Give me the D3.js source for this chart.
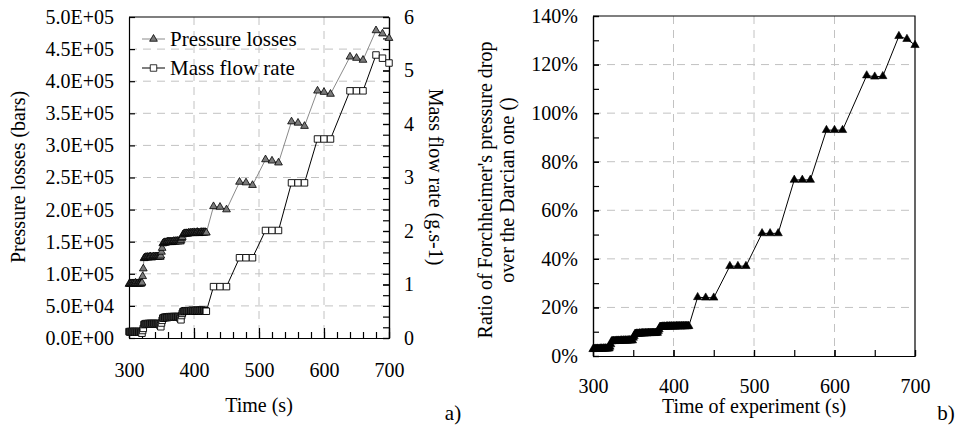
<!DOCTYPE html>
<html>
<head>
<meta charset="utf-8">
<script src="https://cdn.jsdelivr.net/npm/d3@7"></script>
<style>
  html, body { margin: 0; padding: 0; background: #fff; }
  svg { display: block; }
  .grid line { stroke: #c2c2c2; stroke-width: 1; stroke-dasharray: 8,6; }
  .axis path, .axis line { stroke: #000; stroke-width: 1.2; }
</style>
</head>
<body>
<svg id="chart" width="960" height="432"></svg>
<script>
// ---------- DATA ----------
const timeS = [
  300,301,302,303,304,305,306,307,308,309,310,311,312,313,314,315,316,317,318,319,320,
  321,322,
  323,324,325,326,327,328,329,330,331,332,333,334,335,336,337,338,339,340,341,342,343,344,345,346,347,348,349,
  350,351,
  352,353,354,355,356,357,358,359,360,361,362,363,364,365,366,367,368,369,370,371,372,373,374,375,376,377,378,379,380,
  381,382,
  383,384,385,386,387,388,389,390,391,392,393,394,395,396,397,398,399,400,401,402,403,404,405,406,407,408,409,410,
  411,412,413,414,415,416,417,418,419,
  430,440,450,470,480,490,510,520,530,550,560,570,590,600,610,640,650,660,680,690,700];

const pressureLosses = [
  84000,84000,85000,84000,85000,84000,85000,85000,84000,85000,86000,85000,84000,85000,85000,84000,85000,85000,84000,85000,86000,
  96000,108000,
  124000,125000,125000,126000,125000,126000,126000,125000,126000,126000,127000,126000,125000,126000,126000,127000,126000,126000,
  127000,126000,127000,127000,126000,127000,127000,126000,128000,
  134000,140000,
  147000,148000,148000,149000,148000,149000,149000,150000,149000,150000,150000,149000,150000,150000,149000,150000,150000,151000,
  150000,150000,151000,150000,151000,151000,150000,151000,151000,150000,152000,
  155000,157000,
  161000,162000,162000,163000,162000,163000,163000,162000,163000,164000,163000,163000,164000,163000,164000,164000,163000,164000,
  164000,163000,164000,164000,165000,164000,164000,163000,164000,164000,165000,164000,164000,165000,164000,164000,165000,164000,164000,
  205000,204000,200000,243000,242000,238000,278000,276000,273000,337000,335000,330000,
  385000,383000,380000,438000,436000,433000,479000,474000,467000];

const massFlowRate = [
  0.12,0.11,0.12,0.12,0.11,0.12,0.12,0.11,0.12,0.12,0.11,0.12,0.12,0.11,0.12,0.12,0.11,0.12,0.11,0.10,0.09,
  0.14,0.18,
  0.25,0.26,0.26,0.27,0.26,0.26,0.27,0.27,0.26,0.27,0.27,0.26,0.27,0.27,0.26,0.27,0.27,0.26,0.27,0.27,0.26,0.27,0.27,0.26,0.25,0.23,0.21,
  0.28,0.33,
  0.37,0.38,0.38,0.39,0.38,0.39,0.39,0.38,0.39,0.39,0.40,0.39,0.39,0.40,0.39,0.39,0.40,0.39,0.40,0.40,0.39,0.40,0.40,0.39,0.40,0.39,0.38,0.36,0.34,
  0.42,0.46,
  0.49,0.50,0.50,0.51,0.50,0.51,0.51,0.50,0.51,0.51,0.51,0.50,0.51,0.51,0.52,0.51,0.51,0.50,0.51,0.51,0.52,0.51,0.51,0.52,0.51,0.51,0.52,0.51,
  0.51,0.52,0.51,0.51,0.52,0.51,0.51,0.50,0.50,
  0.96,0.96,0.96,1.50,1.50,1.50,2.01,2.01,2.01,2.90,2.90,2.90,
  3.72,3.72,3.72,4.62,4.62,4.62,5.29,5.23,5.14];

const forchRatio = [
  2.8,2.9,2.9,3.0,2.9,3.0,3.0,2.9,3.0,3.0,3.1,3.0,3.0,3.1,3.0,3.1,3.1,3.0,3.1,3.1,3.1,
  3.8,4.8,
  6.0,6.1,6.2,6.2,6.1,6.2,6.3,6.2,6.3,6.3,6.2,6.3,6.4,6.3,6.3,6.4,6.3,6.4,6.4,6.3,6.4,6.4,6.5,6.4,6.4,6.5,6.4,
  7.5,8.2,
  9.0,9.1,9.2,9.2,9.1,9.2,9.3,9.2,9.3,9.3,9.4,9.3,9.3,9.4,9.4,9.3,9.4,9.5,9.4,9.4,9.5,9.4,9.5,9.5,9.4,9.5,9.5,9.6,9.5,
  10.3,11.0,
  11.9,12.0,12.0,12.1,12.0,12.1,12.1,12.0,12.1,12.2,12.1,12.1,12.2,12.1,12.2,12.2,12.1,12.2,12.2,12.1,12.2,12.3,12.2,12.2,12.3,12.2,12.2,12.3,
  12.2,12.3,12.3,12.2,12.3,12.3,12.2,12.3,12.3,
  24.2,24.0,24.0,37.0,37.0,37.0,50.5,50.5,50.5,72.5,72.5,72.5,
  93.0,93.0,93.0,115.5,115.0,115.2,131.7,130.5,128.0];

const timeTicks = [300,400,500,600,700];
const pressureTicks = [0,50000,100000,150000,200000,250000,300000,350000,400000,450000,500000];
const massTicks = [0,1,2,3,4,5,6];
const ratioTicks = [0,20,40,60,80,100,120,140];
const legendLabels = ["Pressure losses","Mass flow rate"];

// ---------- DRAW ----------
const FONT = "'Liberation Serif', 'Times New Roman', serif";
const svg = d3.select("#chart");

function expLabel(v){
  if (v === 0) return "0.0E+00";
  const e = Math.floor(Math.log10(v) + 1e-9);
  const m = v / Math.pow(10, e);
  return m.toFixed(1) + "E+" + String(e).padStart(2, "0");
}
function styleAxis(g){
  g.attr("font-family", FONT).attr("font-size", 20);
  g.selectAll("text").attr("font-family", FONT).attr("font-size", 20).attr("fill", "#000");
}
function addText(x, y, txt, size, anchor, transform){
  const t = svg.append("text").attr("font-family", FONT).attr("font-size", size)
    .attr("text-anchor", anchor || "start").attr("fill", "#000").text(txt);
  if (transform) t.attr("transform", transform); else t.attr("x", x).attr("y", y);
  return t;
}

// ===== Chart a) =====
const A = {l:129, r:389, t:17, b:338};
const xA = d3.scaleLinear().domain([300,700]).range([A.l, A.r]);
const yP = d3.scaleLinear().domain([0,500000]).range([A.b, A.t]);
const yM = d3.scaleLinear().domain([0,6]).range([A.b, A.t]);

const gA = svg.append("g");
gA.append("g").attr("class","grid").selectAll("line")
  .data(pressureTicks.filter(d => d > 0 && d < 500000)).join("line")
  .attr("x1", A.l).attr("x2", A.r).attr("y1", d => yP(d)).attr("y2", d => yP(d));
gA.append("g").attr("class","grid").selectAll("line")
  .data(timeTicks.filter(d => d > 300 && d < 700)).join("line")
  .attr("y1", A.t).attr("y2", A.b).attr("x1", d => xA(d)).attr("x2", d => xA(d));

gA.append("g").attr("class","axis").attr("transform",`translate(${A.l},0)`)
  .call(d3.axisLeft(yP).tickValues(pressureTicks).tickSizeInner(-6).tickSizeOuter(0).tickPadding(15).tickFormat(expLabel))
  .call(styleAxis);
gA.append("g").attr("class","axis").attr("transform",`translate(${A.r},0)`)
  .call(d3.axisRight(yM).tickValues(d3.range(0, 6.001, 0.2)).tickSizeInner(-6).tickSizeOuter(0).tickFormat(""));
gA.append("g").attr("class","axis").attr("transform",`translate(${A.r},0)`)
  .call(d3.axisRight(yM).tickValues(massTicks).tickSizeInner(-6).tickSizeOuter(0).tickPadding(15).tickFormat(d3.format("d")))
  .call(styleAxis);
gA.append("g").attr("class","axis").attr("transform",`translate(0,${A.b})`)
  .call(d3.axisBottom(xA).tickValues(d3.range(300, 701, 20)).tickSizeInner(-6).tickSizeOuter(0).tickFormat(""));
gA.append("g").attr("class","axis").attr("transform",`translate(0,${A.b})`)
  .call(d3.axisBottom(xA).tickValues(timeTicks).tickSizeInner(-10).tickSizeOuter(0).tickPadding(25).tickFormat(d3.format("d")))
  .call(styleAxis);
gA.append("line").attr("x1",A.l).attr("x2",A.r).attr("y1",A.t).attr("y2",A.t)
  .attr("stroke","#000").attr("stroke-width",1.2);

const ptsA = timeS.map((t,i) => ({t, p: pressureLosses[i], m: massFlowRate[i]}));
gA.append("path").datum(ptsA).attr("fill","none").attr("stroke","#8a8a8a").attr("stroke-width",1)
  .attr("d", d3.line().x(d => xA(d.t)).y(d => yP(d.p)));
gA.append("path").datum(ptsA).attr("fill","none").attr("stroke","#000").attr("stroke-width",1)
  .attr("d", d3.line().x(d => xA(d.t)).y(d => yM(d.m)));
const tri = d3.symbol().type(d3.symbolTriangle).size(26);
const sq = d3.symbol().type(d3.symbolSquare).size(42);
gA.append("g").selectAll("path").data(ptsA).join("path")
  .attr("d", sq).attr("transform", d => `translate(${xA(d.t)},${yM(d.m)})`)
  .attr("fill","#fff").attr("stroke","#000").attr("stroke-width",0.9);
gA.append("g").selectAll("path").data(ptsA).join("path")
  .attr("d", tri).attr("transform", d => `translate(${xA(d.t)},${yP(d.p)})`)
  .attr("fill","#7a7a7a").attr("stroke","#000").attr("stroke-width",0.8);

const legY = [39, 68];
legendLabels.forEach((lab, i) => {
  const g = gA.append("g");
  g.append("line").attr("x1",142).attr("x2",165).attr("y1",legY[i]).attr("y2",legY[i])
    .attr("stroke", i === 0 ? "#8a8a8a" : "#000").attr("stroke-width",1);
  g.append("path").attr("d", i === 0 ? tri : sq).attr("transform",`translate(153.5,${legY[i]})`)
    .attr("fill", i === 0 ? "#7a7a7a" : "#fff").attr("stroke","#000").attr("stroke-width",0.8);
  g.append("text").attr("x",170).attr("y",legY[i]+7).attr("font-family",FONT).attr("font-size",21).text(lab);
});

addText(0, 0, "Pressure losses (bars)", 20, "middle", "translate(25,177) rotate(-90)");
addText(0, 0, "Mass flow rate (g.s-1)", 20, "middle", "translate(429,177) rotate(90)");
addText(259, 412, "Time (s)", 20, "middle");
addText(453, 420, "a)", 21, "middle");

// ===== Chart b) =====
const B = {l:593, r:915, t:16, b:356};
const xB = d3.scaleLinear().domain([300,700]).range([B.l, B.r]);
const yB = d3.scaleLinear().domain([0,140]).range([B.b, B.t]);
const gB = svg.append("g");
gB.append("g").attr("class","grid").selectAll("line")
  .data(ratioTicks.filter(d => d > 0 && d < 140)).join("line")
  .attr("x1", B.l).attr("x2", B.r).attr("y1", d => yB(d)).attr("y2", d => yB(d));
gB.append("g").attr("class","grid").selectAll("line")
  .data(timeTicks.filter(d => d > 300 && d < 700)).join("line")
  .attr("y1", B.t).attr("y2", B.b).attr("x1", d => xB(d)).attr("x2", d => xB(d));

gB.append("g").attr("class","axis").attr("transform",`translate(${B.l},0)`)
  .call(d3.axisLeft(yB).tickValues(d3.range(0, 141, 10)).tickSizeInner(-6).tickSizeOuter(0).tickFormat(""));
gB.append("g").attr("class","axis").attr("transform",`translate(${B.l},0)`)
  .call(d3.axisLeft(yB).tickValues(ratioTicks).tickSizeInner(-6).tickSizeOuter(0).tickPadding(15).tickFormat(d => d + "%"))
  .call(styleAxis);
gB.append("g").attr("class","axis").attr("transform",`translate(0,${B.b})`)
  .call(d3.axisBottom(xB).tickValues(d3.range(300, 701, 50)).tickSizeInner(-6).tickSizeOuter(0).tickFormat(""));
gB.append("g").attr("class","axis").attr("transform",`translate(0,${B.b})`)
  .call(d3.axisBottom(xB).tickValues(timeTicks).tickSizeInner(-6).tickSizeOuter(0).tickPadding(23).tickFormat(d3.format("d")))
  .call(styleAxis);
gB.append("path").attr("d",`M${B.l},${B.t}H${B.r}V${B.b}`).attr("fill","none")
  .attr("stroke","#000").attr("stroke-width",1.2);

const ptsB = timeS.map((t,i) => ({t, r: forchRatio[i]}));
gB.append("path").datum(ptsB).attr("fill","none").attr("stroke","#000").attr("stroke-width",1)
  .attr("d", d3.line().x(d => xB(d.t)).y(d => yB(d.r)));
const triB = d3.symbol().type(d3.symbolTriangle).size(30);
gB.append("g").selectAll("path").data(ptsB).join("path")
  .attr("d", triB).attr("transform", d => `translate(${xB(d.t)},${yB(d.r)})`)
  .attr("fill","#000").attr("stroke","#000").attr("stroke-width",0.6);

addText(0, 0, "Ratio of Forchheimer's pressure drop", 20, "middle", "translate(492,190) rotate(-90)");
addText(0, 0, "over the Darcian one ()", 20, "middle", "translate(514,190) rotate(-90)");
addText(754, 413, "Time of experiment (s)", 20, "middle");
addText(946, 420, "b)", 21, "middle");
</script>
</body>
</html>
